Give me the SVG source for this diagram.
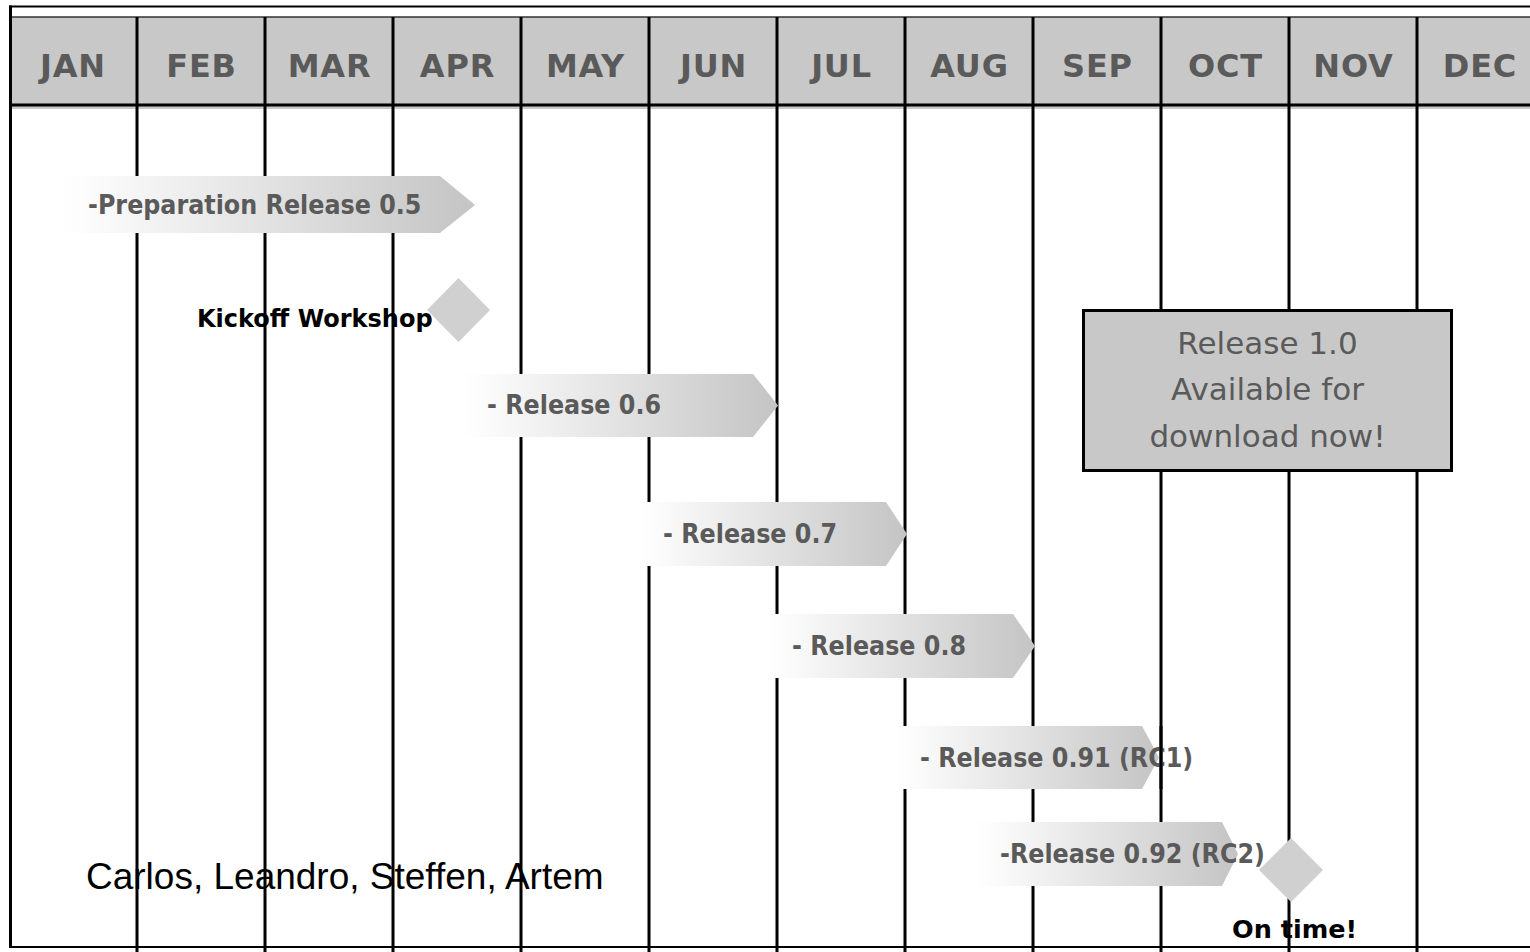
<svg xmlns="http://www.w3.org/2000/svg" width="1530" height="952" viewBox="0 0 1530 952">
  <defs>
    <linearGradient id="fade" x1="0" y1="0" x2="1" y2="0">
      <stop offset="0" stop-color="#ffffff"/>
      <stop offset="0.08" stop-color="#fbfbfb"/>
      <stop offset="1" stop-color="#c4c4c4"/>
    </linearGradient>
    <style>
      .month { font-family: "DejaVu Sans", Verdana, sans-serif; font-weight: bold; font-size: 32px; letter-spacing: 0.8px; fill: #5a5a5a; text-anchor: middle; }
      .grid line { stroke: #000; stroke-width: 3; }
      .bar { fill: url(#fade); }
      .bar-label { font-family: "DejaVu Sans Condensed", "DejaVu Sans", sans-serif; font-stretch: condensed; font-weight: bold; font-size: 26.5px; fill: #5a5a5a; }
      .milestone { fill: #d0d0d0; }
      .note { font-family: "DejaVu Sans", Verdana, sans-serif; font-weight: bold; fill: #000; }
      .box { fill: #c8c8c8; stroke: #000; stroke-width: 3; }
      .box-text { font-family: "DejaVu Sans", Verdana, sans-serif; font-size: 31px; fill: #5a5a5a; text-anchor: middle; }
      .team { font-family: "Liberation Sans", Arial, sans-serif; font-size: 37px; fill: #000; }
    </style>
  </defs>

  <rect x="0" y="0" width="1530" height="952" fill="#ffffff"/>

  <!-- month header band -->
  <g id="header">
    <rect x="10" y="17" width="1520" height="88" fill="#c8c8c8"/>
    <line x1="10" y1="17" x2="1530" y2="17" stroke="#333" stroke-width="1.5"/>
    <line x1="10" y1="107.5" x2="1530" y2="107.5" stroke="#c8c8c8" stroke-width="3"/>
    <text class="month" x="73" y="77">JAN</text>
    <text class="month" x="201.5" y="77">FEB</text>
    <text class="month" x="329.5" y="77">MAR</text>
    <text class="month" x="457.5" y="77">APR</text>
    <text class="month" x="585.5" y="77">MAY</text>
    <text class="month" x="713.5" y="77">JUN</text>
    <text class="month" x="841.5" y="77">JUL</text>
    <text class="month" x="969.5" y="77">AUG</text>
    <text class="month" x="1097.5" y="77">SEP</text>
    <text class="month" x="1225.5" y="77">OCT</text>
    <text class="month" x="1353.5" y="77">NOV</text>
    <text class="month" x="1480" y="77">DEC</text>
  </g>

  <!-- free-standing labels sit under the grid lines -->
  <g id="kickoff-label">
    <text class="note" x="197" y="327" font-size="24">Kickoff Workshop</text>
  </g>
  <g id="on-time-label">
    <text class="note" x="1232" y="938" font-size="25.5">On time!</text>
  </g>
  <g id="team">
    <text class="team" x="86" y="889">Carlos, Leandro, Steffen, Artem</text>
  </g>

  <!-- month separators and frame -->
  <g class="grid" id="grid">
    <line x1="137" y1="17" x2="137" y2="952"/>
    <line x1="265" y1="17" x2="265" y2="952"/>
    <line x1="393" y1="17" x2="393" y2="952"/>
    <line x1="521" y1="17" x2="521" y2="952"/>
    <line x1="649" y1="17" x2="649" y2="952"/>
    <line x1="777" y1="17" x2="777" y2="952"/>
    <line x1="905" y1="17" x2="905" y2="952"/>
    <line x1="1033" y1="17" x2="1033" y2="952"/>
    <line x1="1161" y1="17" x2="1161" y2="952"/>
    <line x1="1289" y1="17" x2="1289" y2="952"/>
    <line x1="1417" y1="17" x2="1417" y2="952"/>
    <line x1="10" y1="105" x2="1530" y2="105"/>
    <line x1="10.5" y1="5.5" x2="10.5" y2="947"/>
    <line x1="9" y1="6.5" x2="1530" y2="6.5" style="stroke-width:2"/>
    <line x1="9" y1="947" x2="1530" y2="947" style="stroke-width:2"/>
  </g>

  <!-- release bars -->
  <g id="bar-05">
    <polygon class="bar" points="62,176 440,176 475,205 440,233 62,233"/>
    <text class="bar-label" x="88" y="214">-Preparation Release 0.5</text>
  </g>
  <g id="bar-06">
    <polygon class="bar" points="462,374 753,374 778,405.5 753,437 462,437"/>
    <text class="bar-label" x="487" y="414">- Release 0.6</text>
  </g>
  <g id="bar-07">
    <polygon class="bar" points="639,502 886,502 907,534 886,566 639,566"/>
    <text class="bar-label" x="663" y="543">- Release 0.7</text>
  </g>
  <g id="bar-08">
    <polygon class="bar" points="767,614 1013,614 1035,646 1013,678 767,678"/>
    <text class="bar-label" x="792" y="655">- Release 0.8</text>
  </g>
  <g id="bar-091">
    <polygon class="bar" points="895,726 1142,726 1159,757.5 1142,789 895,789"/>
    <text class="bar-label" x="920" y="767">- Release 0.91 (RC1)</text>
  </g>
  <g id="bar-092">
    <polygon class="bar" points="975,822 1222,822 1238,854 1222,886 975,886"/>
    <text class="bar-label" x="1000" y="863">-Release 0.92 (RC2)</text>
  </g>

  <!-- the October separator runs over the RC1 label past the bar tip -->
  <line x1="1161" y1="726" x2="1161" y2="789" stroke="#000" stroke-width="3"/>

  <!-- milestones -->
  <g id="kickoff">
    <polygon class="milestone" points="458.5,278 490,310 458.5,342 427,310"/>
  </g>
  <g id="on-time">
    <polygon class="milestone" points="1291,838 1323,870 1291,902 1259,870"/>
  </g>

  <!-- release announcement -->
  <g id="release-10">
    <rect class="box" x="1083.5" y="310.5" width="368" height="160"/>
    <text class="box-text" x="1267.5" y="354">Release 1.0</text>
    <text class="box-text" x="1267.5" y="400">Available for</text>
    <text class="box-text" x="1267.5" y="447">download now!</text>
  </g>
</svg>
